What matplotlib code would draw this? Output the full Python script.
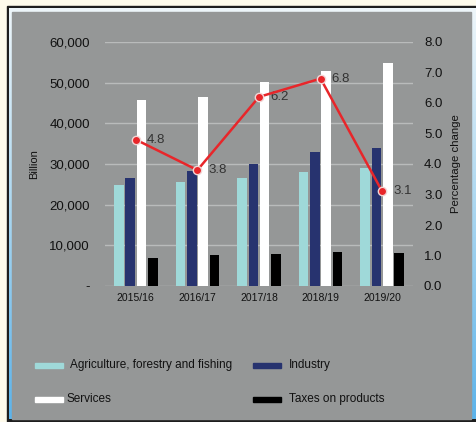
import numpy as np
import matplotlib
matplotlib.use("Agg")
import matplotlib.pyplot as plt
from matplotlib.patches import Rectangle
from matplotlib.colors import LinearSegmentedColormap

plt.rcParams['font.family'] = ['Liberation Sans', 'DejaVu Sans']

years = ["2015/16", "2016/17", "2017/18", "2018/19", "2019/20"]
agriculture = [24800, 25500, 26600, 28000, 29100]
industry = [26500, 28300, 30000, 33000, 33900]
services = [45700, 46500, 50100, 52900, 54900]
taxes = [7000, 7600, 7800, 8400, 8100]
growth = [4.8, 3.8, 6.2, 6.8, 3.1]

series_names = ["Agriculture, forestry and fishing", "Industry", "Services", "Taxes on products"]
series_colors = ["#9fd9d9", "#27336f", "#ffffff", "#000000"]
left_ticks = [0, 10000, 20000, 30000, 40000, 50000, 60000]
left_tick_labels = ["-", "10,000", "20,000", "30,000", "40,000", "50,000", "60,000"]
right_ticks = [0, 1, 2, 3, 4, 5, 6, 7, 8]

W, H = 477, 422
fig = plt.figure(figsize=(W / 100, H / 100), dpi=100)

# background frame
bg = fig.add_axes([0, 0, 1, 1])
bg.set_xlim(0, W)
bg.set_ylim(H, 0)
bg.axis("off")
bg.add_patch(Rectangle((0, 0), W, H, color="#fefbec", zorder=0))
bg.add_patch(Rectangle((7, 6), W, H - 5, color="#1e1e1e", zorder=1))
grad = np.linspace(0, 1, 256).reshape(-1, 1)
cmap = LinearSegmentedColormap.from_list("fr", ["#eef6fa", "#a9d6f0", "#5cb3ea"])
bg.imshow(grad, extent=(9, W, 419, 8), cmap=cmap, aspect="auto", zorder=2)
bg.add_patch(Rectangle((12, 12), 459, 407, color="#959797", zorder=3))

# main axes
ax = fig.add_axes([105 / W, (H - 286) / H, 308 / W, 244 / H])
ax.set_facecolor("none")
x = np.arange(len(years))
width = 0.155
offsets = [-0.275, -0.09, 0.09, 0.275]
for vals, off, col in zip([agriculture, industry, services, taxes], offsets, series_colors):
    ax.bar(x + off, vals, width=width, color=col, zorder=3)
ax.set_xlim(-0.5, len(years) - 0.5)
ax.set_ylim(0, 60000)
ax.set_yticks(left_ticks)
ax.set_yticklabels(left_tick_labels, fontsize=9.5, color="#111111")
ax.set_xticks(x)
ax.set_xticklabels(years, fontsize=7.5, color="#111111")
ax.tick_params(axis="y", length=0, pad=10.8)
ax.tick_params(axis="x", length=0, pad=5)
ax.grid(axis="y", color="#b9bbbb", linewidth=1, zorder=1)
for s in ax.spines.values():
    s.set_visible(False)
ax.set_ylabel("Billion", fontsize=8, color="#111111")
ax.yaxis.set_label_coords(-66 / 308, 0.5)

ax2 = ax.twinx()
ax2.set_ylim(0, 8)
ax2.set_yticks(right_ticks)
ax2.set_yticklabels([f"{v:.1f}" for v in right_ticks], fontsize=9.5, color="#111111")
ax2.tick_params(axis="y", length=0, pad=7.9)
for s in ax2.spines.values():
    s.set_visible(False)
ax2.plot(x, growth, color="#e8262a", linewidth=1.8, marker="o", markersize=6,
         markerfacecolor="#e8262a", markeredgecolor="#f2d6d6", markeredgewidth=1, zorder=5)
for xi, g in zip(x, growth):
    ax2.annotate(f"{g:.1f}", (xi, g), xytext=(8, 0), textcoords="offset points",
                 ha="left", va="center", fontsize=9.5, color="#333333")
ax2.set_ylabel("Percentage change", fontsize=8.2, color="#111111")
ax2.yaxis.set_label_coords(1 + 38 / 308, 0.5)

# legend
rows = [365, 399]
cols = [(35, 70), (253, 289)]
for i, (name, col) in enumerate(zip(series_names, series_colors)):
    r = rows[i // 2]
    px, tx = cols[i % 2]
    if i == 2:
        tx = 67
    bg.add_patch(Rectangle((px, r - 2.5), 28, 5, color=col, zorder=4))
    bg.text(tx, r, name, fontsize=8.5, va="center", ha="left", color="#111111", zorder=5)

fig.savefig("out.png", dpi=100)
